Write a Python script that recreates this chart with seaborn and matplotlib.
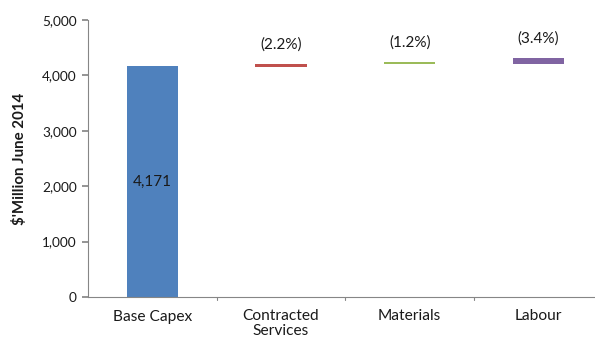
import matplotlib
matplotlib.use("Agg")
import matplotlib.pyplot as plt
import seaborn as sns
import numpy as np

categories = ["Base Capex", "Contracted\nServices", "Materials", "Labour"]
bar_bottoms = [0, 4155, 4207, 4207]
bar_tops = [4171, 4210, 4243, 4315]
bar_labels = ["4,171", "(2.2%)", "(1.2%)", "(3.4%)"]
bar_colors = ["#4F81BD", "#C0504D", "#9BBB59", "#8064A2"]
y_ticks = [0, 1000, 2000, 3000, 4000, 5000]

heights = [t - b for t, b in zip(bar_tops, bar_bottoms)]

sns.set_theme(style="white")
plt.rcParams["font.family"] = ["Lato", "DejaVu Sans"]

fig = plt.figure(figsize=(5.95, 3.45), dpi=100)
ax = fig.add_axes([88 / 595, 48 / 345, (595 - 88) / 595, 277 / 345])

sns.barplot(x=categories, y=heights, bottom=bar_bottoms, color=bar_colors[0],
            width=0.4, ax=ax, saturation=1)
for p, c in zip(ax.patches, bar_colors):
    p.set_facecolor(c)
    p.set_edgecolor("none")

ax.set_ylim(0, 5000)
ax.set_xlim(-0.5, 3.44)
ax.set_yticks(y_ticks)
ax.set_yticklabels([f"{v:,}" for v in y_ticks], fontsize=9.8, color="#1a1a1a")
ax.set_xticks(range(len(categories)))
ax.set_xticklabels(categories, fontsize=11.2, color="#1a1a1a", linespacing=1.05)
ax.tick_params(axis="x", length=0, pad=9)
ax.tick_params(axis="y", length=4, color="#868686", left=True, direction="out", pad=4)
for xb in [0.5, 1.5, 2.5]:
    ax.plot([xb, xb], [0, -0.012], transform=ax.get_xaxis_transform(),
            color="#868686", lw=0.8, clip_on=False)

for s in ["top", "right"]:
    ax.spines[s].set_visible(False)
for s in ["left", "bottom"]:
    ax.spines[s].set_color("#868686")
    ax.spines[s].set_linewidth(0.8)

ax.set_ylabel("$'Million June 2014", fontsize=10.8, fontweight="bold", color="#1a1a1a", labelpad=11)

# labels
ax.text(0, (bar_bottoms[0] + bar_tops[0]) / 2, bar_labels[0], ha="center", va="center",
        fontsize=11, color="#1a1a1a")
for i in range(1, 4):
    ax.annotate(bar_labels[i], (i, bar_tops[i]), xytext=(0, 9), textcoords="offset points",
                ha="center", va="bottom", fontsize=11, color="#1a1a1a")

fig.savefig("out.png", dpi=100)
